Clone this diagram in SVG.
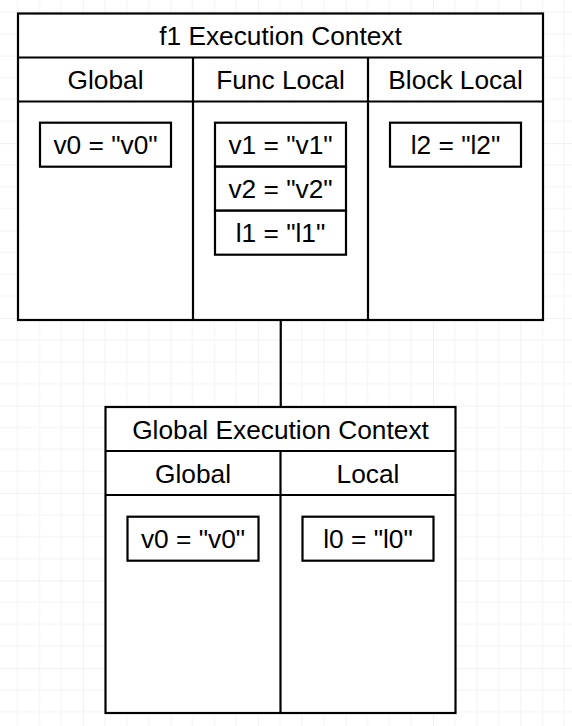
<svg xmlns="http://www.w3.org/2000/svg" width="572" height="726" viewBox="0 0 572 726">
  <defs>
    <pattern id="grid" patternUnits="userSpaceOnUse" x="83.08" y="55.64" width="87.48" height="87.48">
      <path d="M21.87 0V87.48M43.74 0V87.48M65.61 0V87.48M0 21.87H87.48M0 43.74H87.48M0 65.61H87.48" stroke="#f3f3f3" stroke-width="1" fill="none"/>
      <path d="M0 0V87.48M0 0H87.48" stroke="#e3e3e3" stroke-width="1" fill="none"/>
    </pattern>
  </defs>
  <style>
    .box { fill: #ffffff; stroke: #000000; stroke-width: 2.2; }
    .line { fill: none; stroke: #000000; stroke-width: 2.2; }
    .t { font-family: "Liberation Sans", Arial, sans-serif; font-size: 26.3px; fill: #000000; text-anchor: middle; }
  </style>
  <rect x="0" y="0" width="572" height="726" fill="#ffffff"/>
  <rect x="0" y="0" width="572" height="726" fill="url(#grid)"/>

  <g id="connectors">
    <path class="line" d="M280.75 320V407"/>
  </g>

  <g id="f1-context">
    <rect class="box" x="18" y="13.5" width="525" height="306.5"/>
    <path class="line" d="M18 57.5H543M18 101.5H543M193 57.5V320M368 57.5V320"/>
    <text class="t" x="280.5" y="45">f1 Execution Context</text>
    <text class="t" x="105.5" y="89">Global</text>
    <text class="t" x="280.5" y="89">Func Local</text>
    <text class="t" x="455.5" y="89">Block Local</text>
  </g>

  <g id="f1-v0">
    <rect class="box" x="40" y="122.7" width="131" height="44"/>
    <text class="t" x="105.5" y="154.2">v0 = "v0"</text>
  </g>
  <g id="f1-v1">
    <rect class="box" x="215" y="122.7" width="131" height="44"/>
    <text class="t" x="280.5" y="154.2">v1 = "v1"</text>
  </g>
  <g id="f1-v2">
    <rect class="box" x="215" y="166.7" width="131" height="44"/>
    <text class="t" x="280.5" y="198.2">v2 = "v2"</text>
  </g>
  <g id="f1-l1">
    <rect class="box" x="215" y="210.7" width="131" height="44"/>
    <text class="t" x="280.5" y="242.2">l1 = "l1"</text>
  </g>
  <g id="f1-l2">
    <rect class="box" x="390" y="122.7" width="131" height="44"/>
    <text class="t" x="455.5" y="154.2">l2 = "l2"</text>
  </g>

  <g id="global-context">
    <rect class="box" x="105.5" y="407" width="350" height="306"/>
    <path class="line" d="M105.5 451H455.5M105.5 495H455.5M280.5 451V713"/>
    <text class="t" x="280.5" y="438.5">Global Execution Context</text>
    <text class="t" x="193" y="482.5">Global</text>
    <text class="t" x="368" y="482.5">Local</text>
  </g>

  <g id="global-v0">
    <rect class="box" x="127.5" y="516.7" width="131" height="44"/>
    <text class="t" x="193" y="548.2">v0 = "v0"</text>
  </g>
  <g id="global-l0">
    <rect class="box" x="302.5" y="516.7" width="131" height="44"/>
    <text class="t" x="368" y="548.2">l0 = "l0"</text>
  </g>
</svg>
